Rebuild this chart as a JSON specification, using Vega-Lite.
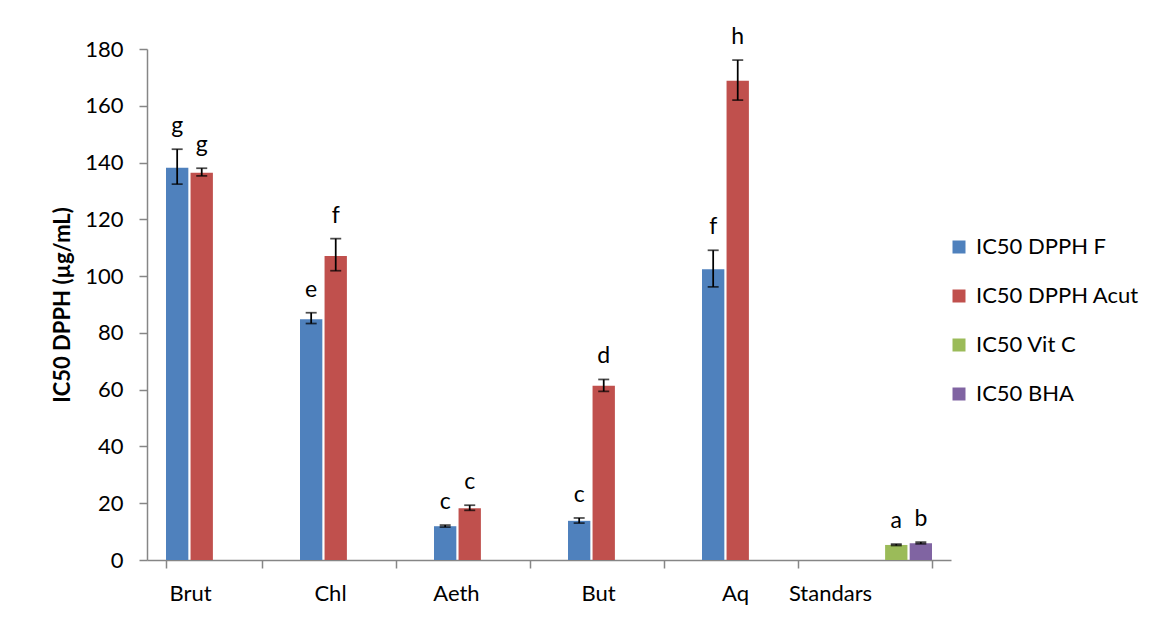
{
  "$schema": "https://vega.github.io/schema/vega-lite/v6.json",
  "width": 804,
  "height": 511,
  "autosize": "none",
  "padding": {"left": 147, "top": 49, "right": 200, "bottom": 61},
  "background": "white",
  "config": {
    "font": "Lato",
    "view": {"stroke": null},
    "axis": {"labelColor": "#000", "titleColor": "#000", "domainColor": "#868686", "tickColor": "#868686", "domainWidth": 1.5, "tickWidth": 1.5, "grid": false}
  },
  "data": {
    "values": [
      {"cat": "Brut", "series": "IC50 DPPH F", "value": 138.2, "lo": 132.4, "hi": 144.7, "letter": "g"},
      {"cat": "Brut", "series": "IC50 DPPH Acut", "value": 136.4, "lo": 135.3, "hi": 138.0, "letter": "g"},
      {"cat": "Chl", "series": "IC50 DPPH F", "value": 84.8, "lo": 83.3, "hi": 87.1, "letter": "e"},
      {"cat": "Chl", "series": "IC50 DPPH Acut", "value": 107.1, "lo": 101.9, "hi": 113.2, "letter": "f"},
      {"cat": "Aeth", "series": "IC50 DPPH F", "value": 11.9, "lo": 11.6, "hi": 12.3, "letter": "c"},
      {"cat": "Aeth", "series": "IC50 DPPH Acut", "value": 18.2, "lo": 17.5, "hi": 19.3, "letter": "c"},
      {"cat": "But", "series": "IC50 DPPH F", "value": 13.8, "lo": 13.0, "hi": 14.8, "letter": "c"},
      {"cat": "But", "series": "IC50 DPPH Acut", "value": 61.4, "lo": 59.4, "hi": 63.6, "letter": "d"},
      {"cat": "Aq", "series": "IC50 DPPH F", "value": 102.4, "lo": 96.2, "hi": 109.1, "letter": "f"},
      {"cat": "Aq", "series": "IC50 DPPH Acut", "value": 168.8, "lo": 162.0, "hi": 176.1, "letter": "h"},
      {"cat": "Standars", "series": "IC50 Vit C", "value": 5.3, "lo": 5.1, "hi": 5.6, "letter": "a"},
      {"cat": "Standars", "series": "IC50 BHA", "value": 5.9, "lo": 5.7, "hi": 6.3, "letter": "b"}
    ]
  },
  "encoding": {
    "x": {
      "field": "cat", "type": "nominal", "sort": ["Brut", "Chl", "Aeth", "But", "Aq", "Standars"],
      "scale": {"paddingInner": 0.2836, "paddingOuter": 0.1418},
      "axis": {
        "title": null, "labelAngle": 0, "labelFontSize": 22, "tickSize": 8, "tickBand": "extent",
        "labelPadding": 15,
        "labelOffset": {"condition": [
          {"test": "datum.value === 'Standars'", "value": -54},
          {"test": "datum.value === 'Aeth'", "value": -26},
          {"test": "datum.value === 'Brut'", "value": -24},
          {"test": "datum.value === 'Aq'", "value": -15}
        ], "value": -18}
      }
    },
    "xOffset": {
      "field": "series", "type": "nominal",
      "sort": ["IC50 DPPH F", "IC50 DPPH Acut", "IC50 Vit C", "IC50 BHA"],
      "scale": {"paddingInner": 0.09, "paddingOuter": 0}
    }
  },
  "layer": [
    {
      "mark": {"type": "bar"},
      "encoding": {
        "y": {
          "field": "value", "type": "quantitative",
          "scale": {"domain": [0, 180], "nice": false},
          "axis": {"values": [0, 20, 40, 60, 80, 100, 120, 140, 160, 180], "title": "IC50 DPPH (µg/mL)", "titleFontSize": 22, "titleFontWeight": "bold", "titlePadding": 10, "labelFontSize": 22, "tickSize": 8, "labelPadding": 16}
        },
        "color": {
          "field": "series", "type": "nominal",
          "scale": {"domain": ["IC50 DPPH F", "IC50 DPPH Acut", "IC50 Vit C", "IC50 BHA"], "range": ["#4F81BD", "#C0504D", "#9BBB59", "#8064A2"]},
          "legend": {"title": null, "orient": "none", "legendX": 801, "legendY": 187, "symbolType": "square", "symbolSize": 169, "symbolStrokeWidth": 0, "labelFontSize": 22, "labelOffset": 6, "labelLimit": 400, "rowPadding": 27, "labelColor": "#000"}
        }
      }
    },
    {
      "mark": {"type": "rule", "color": "#000", "strokeWidth": 1.75},
      "encoding": {"y": {"field": "lo", "type": "quantitative"}, "y2": {"field": "hi"}}
    },
    {
      "mark": {"type": "tick", "color": "#000", "size": 11, "thickness": 1.75, "orient": "horizontal"},
      "encoding": {"y": {"field": "lo", "type": "quantitative"}}
    },
    {
      "mark": {"type": "tick", "color": "#000", "size": 11, "thickness": 1.75, "orient": "horizontal"},
      "encoding": {"y": {"field": "hi", "type": "quantitative"}}
    },
    {
      "mark": {"type": "text", "fontSize": 23, "color": "#000", "baseline": "middle", "dy": -23},
      "encoding": {"y": {"field": "hi", "type": "quantitative"}, "text": {"field": "letter"}}
    }
  ]
}
